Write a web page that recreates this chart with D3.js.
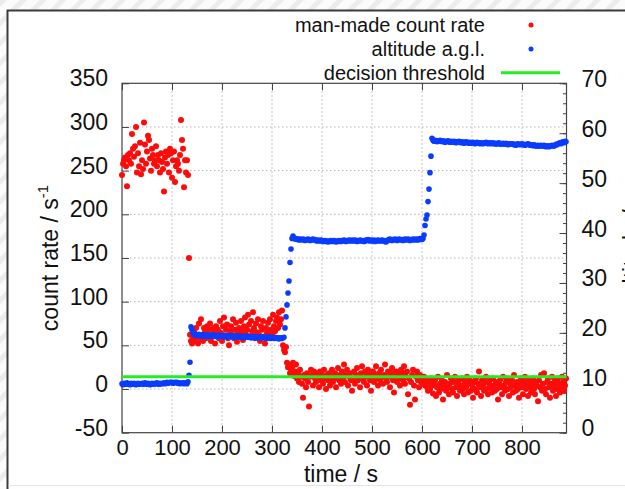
<!DOCTYPE html>
<html>
<head>
<meta charset="utf-8">
<script src="https://cdn.jsdelivr.net/npm/d3@7"></script>
<style>
  html, body { margin: 0; padding: 0; background: #fff; }
  svg { display: block; }
  text { font-family: "Liberation Sans", Arial, Helvetica, sans-serif; fill: #111; }
</style>
</head>
<body>
<svg id="chart" width="625" height="489"></svg>
<script>
// ---------------- data ----------------
const timeStep = 2; // seconds between samples
const countRate = [
  245,258,262,265,255,232,268,262,270,258,
  292,275,266,278,300,248,270,255,282,246,
  262,252,305,280,258,272,290,285,264,250,
  275,268,258,262,278,255,268,262,248,270,
  260,252,226,265,272,258,268,248,275,270,
  242,262,272,237,255,262,258,250,268,308,
  285,275,231,262,248,262,245,150,62,55,
  52,58,65,55,70,60,52,75,58,80,
  62,55,70,66,58,72,60,68,75,55,
  62,70,65,52,72,62,68,58,78,64,
  55,72,82,60,68,74,58,50,66,72,
  62,80,58,68,76,54,64,70,60,78,
  66,56,72,82,62,68,85,74,60,78,
  66,88,70,58,75,65,80,62,55,72,
  68,78,60,52,70,64,76,58,80,68,
  62,85,72,66,78,82,70,88,74,80,
  90,50,45,42,48,30,25,28,18,22,
  25,30,15,20,28,12,18,8,22,14,
  6,-10,16,12,2,18,8,-20,14,22,
  16,4,20,12,8,18,14,2,20,10,
  16,6,22,12,0,16,10,18,4,14,
  22,8,12,18,2,14,24,10,16,6,
  20,12,28,8,16,22,4,14,18,10,
  -2,12,20,6,16,24,10,14,2,18,
  26,12,8,20,14,4,22,16,10,-2,
  14,20,8,16,26,12,4,18,10,22,
  14,6,16,28,12,8,20,14,2,18,
  24,10,-4,14,20,8,16,12,4,22,
  18,10,26,6,14,20,-6,12,-18,8,
  16,22,4,-12,14,20,10,2,16,8,
  12,6,14,4,10,2,-2,8,0,12,
  4,-5,6,10,-8,2,14,-4,6,0,
  10,-12,4,8,-2,16,2,-6,6,12,
  0,-4,8,14,2,-8,6,10,-2,4,
  12,0,-6,8,2,14,-4,6,10,-2,
  4,-10,8,0,12,-4,6,20,2,-8,
  10,4,-2,8,14,0,-6,6,10,2,
  -4,12,4,-2,8,0,-12,6,10,2,
  -6,14,4,-2,8,12,0,-8,6,2,
  10,-4,16,4,-2,8,0,-10,6,12,
  2,-6,8,14,0,4,-8,10,2,-4,
  6,12,0,-6,8,4,-14,10,2,16,
  -2,6,18,0,-6,8,12,2,-10,6,
  14,-2,4,10,-8,0,12,6,-4,2,
  14,8,-2,4,12
];
const altitude = [
  9.8,9.6,9.9,9.7,9.8,10.0,9.7,9.8,9.6,9.9,
  9.8,9.7,9.9,9.8,9.6,9.8,9.9,9.7,9.8,9.8,
  9.9,9.7,9.8,10.0,9.8,9.7,9.9,9.8,9.6,9.8,
  9.9,9.8,9.7,9.9,9.8,10.0,9.8,9.7,9.9,9.8,
  9.8,9.9,10.0,9.8,9.9,10.1,9.9,10.0,10.1,10.0,
  10.1,9.9,10.0,10.1,10.0,10.1,9.9,10.0,9.8,9.9,
  9.9,10.0,9.8,9.9,10.0,9.8,10.2,11.5,14.1,21.2,
  20.6,20.0,19.6,19.8,19.4,19.6,19.5,19.7,19.4,19.6,
  19.5,19.3,19.6,19.4,19.5,19.3,19.6,19.4,19.5,19.3,
  19.4,19.6,19.3,19.5,19.4,19.2,19.5,19.3,19.4,19.5,
  19.3,19.4,19.2,19.5,19.3,19.4,19.2,19.3,19.5,19.3,
  19.2,19.4,19.3,19.1,19.3,19.4,19.2,19.3,19.1,19.3,
  19.2,19.3,19.1,19.2,19.4,19.2,19.1,19.3,19.2,19.0,
  19.2,19.1,19.3,19.0,19.2,19.1,19.0,19.2,19.1,19.0,
  19.1,19.2,19.0,19.1,18.9,19.1,19.0,19.2,19.0,18.9,
  19.1,19.0,18.9,19.1,19.0,18.9,19.0,18.8,19.0,18.9,
  18.9,19.0,19.1,21.0,23.2,25.6,28.0,30.4,34.1,36.8,
  38.9,39.4,39.0,38.8,38.9,38.7,38.8,38.6,38.8,38.7,
  38.6,38.8,38.7,38.5,38.7,38.6,38.8,38.7,38.5,38.6,
  38.7,38.8,38.6,38.7,38.5,38.4,38.6,38.5,38.4,38.6,
  38.5,38.3,38.4,38.5,38.3,38.4,38.2,38.4,38.3,38.5,
  38.4,38.3,38.5,38.4,38.2,38.4,38.3,38.5,38.4,38.3,
  38.5,38.4,38.6,38.5,38.3,38.5,38.4,38.6,38.5,38.4,
  38.6,38.5,38.4,38.6,38.5,38.3,38.5,38.4,38.6,38.5,
  38.4,38.5,38.3,38.4,38.6,38.5,38.7,38.5,38.4,38.6,
  38.5,38.4,38.6,38.3,38.5,38.4,38.6,38.5,38.4,38.5,
  38.6,38.4,38.5,38.3,38.2,38.4,38.6,38.7,38.8,38.6,
  38.5,38.7,38.6,38.8,38.7,38.5,38.6,38.8,38.7,38.6,
  38.7,38.5,38.6,38.8,38.7,38.6,38.8,38.7,38.5,38.7,
  38.6,38.8,38.7,38.6,38.8,38.7,38.6,38.8,38.9,38.7,
  38.7,38.9,39.6,41.5,42.8,43.6,46.3,48.8,52.1,55.4,
  59.0,58.6,58.4,58.6,58.5,58.3,58.5,58.4,58.6,58.4,
  58.3,58.5,58.4,58.2,58.4,58.3,58.5,58.3,58.2,58.4,
  58.3,58.2,58.4,58.3,58.1,58.3,58.2,58.4,58.2,58.1,
  58.3,58.2,58.0,58.2,58.3,58.1,58.2,58.0,58.2,58.1,
  58.0,58.2,58.1,57.9,58.1,58.2,58.0,58.1,57.9,58.1,
  58.0,57.9,58.1,58.0,58.2,58.1,57.9,58.0,58.1,57.9,
  58.0,58.1,57.9,58.0,57.8,58.0,57.9,58.1,57.9,57.8,
  57.9,58.0,57.8,57.9,58.0,57.8,57.7,57.9,57.8,57.9,
  57.8,57.9,57.7,57.8,57.6,57.8,57.9,57.8,57.7,57.8,
  57.9,57.7,57.8,57.6,57.7,57.8,57.9,57.8,57.6,57.7,
  57.6,57.5,57.7,57.6,57.4,57.5,57.6,57.4,57.5,57.6,
  57.5,57.4,57.6,57.5,57.3,57.4,57.5,57.3,57.4,57.5,
  57.6,57.5,57.4,57.6,57.8,57.7,57.9,58.0,58.1,57.9,
  58.2,58.3,58.1,58.4,58.3
];
const decisionThreshold = 14; // counts per second
const xTicks = [0,100,200,300,400,500,600,700,800];
const yLeftTicks = [-50,0,50,100,150,200,250,300,350];
const yRightTicks = [0,10,20,30,40,50,60,70];
const legendLabels = ["man-made count rate", "altitude a.g.l.", "decision threshold"];

// ---------------- layout ----------------
const svg = d3.select("#chart");
const W = 625, H = 489;
const plot = { left: 122, right: 566.5, top: 83.3, bottom: 432.7 };
const colors = { red: "#ff0a0a", blue: "#0a3cff", green: "#22ee22" };

// background hatch pattern outside the figure box
const defs = svg.append("defs");
const pat = defs.append("pattern").attr("id", "hatch")
  .attr("patternUnits", "userSpaceOnUse").attr("width", 14).attr("height", 14)
  .attr("patternTransform", "rotate(45)");
pat.append("rect").attr("width", 14).attr("height", 14).attr("fill", "#fbfbfb");
pat.append("rect").attr("width", 5).attr("height", 14).attr("fill", "#ececec");
svg.append("rect").attr("width", W).attr("height", H).attr("fill", "url(#hatch)");

// figure box
svg.append("rect").attr("x", 7.5).attr("y", 10.5).attr("width", W).attr("height", H)
  .attr("fill", "#fff").attr("stroke", "#3a3a3a").attr("stroke-width", 2);
svg.append("line").attr("x1", 8.5).attr("x2", W).attr("y1", 485.5).attr("y2", 485.5)
  .attr("stroke", "#e4e4e4").attr("stroke-width", 1);

const x = d3.scaleLinear().domain([0, 889]).range([plot.left, plot.right]);
const yL = d3.scaleLinear().domain([-50, 350]).range([plot.bottom, plot.top]);
const yR = d3.scaleLinear().domain([0, 70]).range([plot.bottom, plot.top]);

const times = countRate.map((_, i) => i * timeStep);
const redData = countRate.map((v, i) => ({ t: times[i], v }));
const blueData = altitude.map((v, i) => ({ t: i * timeStep, v }));

// grid
const grid = svg.append("g").attr("stroke", "#b4b4b4").attr("stroke-width", 1)
  .attr("stroke-dasharray", "1.5,2.5");
grid.selectAll("line.gx").data(xTicks.filter(d => d > 0)).join("line")
  .attr("x1", d => x(d)).attr("x2", d => x(d))
  .attr("y1", plot.top).attr("y2", plot.bottom);
grid.selectAll("line.gy").data(yLeftTicks.filter(d => d > -50 && d < 350)).join("line")
  .attr("x1", plot.left).attr("x2", plot.right)
  .attr("y1", d => yL(d)).attr("y2", d => yL(d));

// axes (ticks inward)
const axisColor = "#444";
const fs = 23;
const plain = d => String(d);
const gBottom = svg.append("g").attr("transform", `translate(0,${plot.bottom})`)
  .call(d3.axisBottom(x).tickValues(xTicks).tickSizeInner(-7).tickSizeOuter(0).tickPadding(0).tickFormat(plain));
const gTop = svg.append("g").attr("transform", `translate(0,${plot.top})`)
  .call(d3.axisTop(x).tickValues(xTicks).tickSizeInner(-7).tickSizeOuter(0).tickFormat(""));
const gLeft = svg.append("g").attr("transform", `translate(${plot.left},0)`)
  .call(d3.axisLeft(yL).tickValues(yLeftTicks).tickSizeInner(-7).tickSizeOuter(0).tickFormat(plain));
const gRightMinor = svg.append("g").attr("transform", `translate(${plot.right},0)`)
  .call(d3.axisRight(yR).ticks(35).tickSizeInner(-3.5).tickSizeOuter(0).tickFormat(""));
const gRight = svg.append("g").attr("transform", `translate(${plot.right},0)`)
  .call(d3.axisRight(yR).tickValues(yRightTicks).tickSizeInner(-7).tickSizeOuter(0).tickFormat(plain));

[gBottom, gTop, gLeft, gRight, gRightMinor].forEach(g => {
  g.select(".domain").remove();
  g.selectAll(".tick line").attr("stroke", axisColor).attr("stroke-width", 1);
  g.selectAll(".tick text").attr("font-size", fs).attr("fill", "#111")
    .attr("font-family", '"Liberation Sans", Arial, sans-serif');
});
gBottom.selectAll(".tick text").attr("dy", null).attr("y", 22.5).attr("font-size", 22);
gLeft.selectAll(".tick text").attr("dy", null).attr("x", -14).attr("y", 2.5);
gRight.selectAll(".tick text").attr("dy", null).attr("x", 15).attr("y", 3);

// plot frame
svg.append("rect").attr("x", plot.left).attr("y", plot.top)
  .attr("width", plot.right - plot.left).attr("height", plot.bottom - plot.top)
  .attr("fill", "none").attr("stroke", axisColor).attr("stroke-width", 1.2);

// data marks
const marks = svg.append("g");
marks.selectAll("circle.red").data(redData).join("circle").attr("class", "red")
  .attr("cx", d => x(d.t)).attr("cy", d => yL(d.v)).attr("r", 3).attr("fill", colors.red);
marks.selectAll("circle.blue").data(blueData).join("circle").attr("class", "blue")
  .attr("cx", d => x(d.t)).attr("cy", d => yR(d.v)).attr("r", 2.8).attr("fill", colors.blue);
svg.append("line").attr("x1", plot.left).attr("x2", plot.right)
  .attr("y1", yL(decisionThreshold)).attr("y2", yL(decisionThreshold))
  .attr("stroke", colors.green).attr("stroke-width", 3);

// axis titles
const yt = svg.append("text").attr("transform", `translate(58,258) rotate(-90)`)
  .attr("text-anchor", "middle").attr("font-size", 23);
yt.append("tspan").text("count rate / s");
yt.append("tspan").attr("dy", -10).attr("font-size", 15).text("-1");

svg.append("text").attr("x", 341).attr("y", 482).attr("text-anchor", "middle")
  .attr("font-size", 23).text("time / s");

svg.append("text").attr("transform", `translate(640,240) rotate(-90)`)
  .attr("text-anchor", "middle").attr("font-size", 23).attr("fill", "#222").text("altitude / m");

// legend
const legY = [25, 49, 72.7];
const leg = svg.append("g");
legendLabels.forEach((lab, i) => {
  leg.append("text").attr("x", 485).attr("y", legY[i] + 7).attr("text-anchor", "end")
    .attr("font-size", 20).text(lab);
});
leg.append("circle").attr("cx", 531).attr("cy", legY[0]).attr("r", 2.5).attr("fill", colors.red);
leg.append("circle").attr("cx", 531).attr("cy", legY[1]).attr("r", 2.5).attr("fill", colors.blue);
leg.append("line").attr("x1", 501).attr("x2", 560).attr("y1", legY[2]).attr("y2", legY[2])
  .attr("stroke", colors.green).attr("stroke-width", 3);
</script>
</body>
</html>
